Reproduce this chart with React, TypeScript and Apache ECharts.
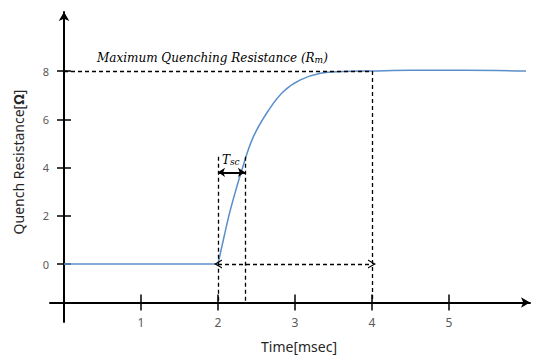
import React, { useEffect, useRef } from 'react';
import * as echarts from 'echarts';

// ---- data ----
const baselineTime = [0, 2];
const baselineRes = [0, 0];
const riseTime = [2, 2.08, 2.16, 2.31, 2.46, 2.66, 2.85, 3.07, 3.33, 3.63, 3.98, 4.5, 5.2, 6.0];
const riseRes = [0, 1.15, 2.24, 3.9, 5.28, 6.39, 7.15, 7.63, 7.91, 7.98, 8.0, 8.03, 8.03, 8.0];
const xTickValues = [1, 2, 3, 4, 5];
const yTickValues = [0, 2, 4, 6, 8];
const rMax = 8;
const tStart = 2;
const tSc = 2.35;
const tSettle = 4;
const tscArrowLevel = 3.8;
const tscTop = 4.45;

// ---- axis geometry ----
const X_MIN = -0.182;
const X_MAX = 6.052;
const Y_MIN = -2.404;
const Y_MAX = 10.446;
const X_AXIS_AT = -1.596; // value of R where the time axis is drawn
const GRID = { left: 50, right: 3, top: 12, bottom: 35 };
const PX_PER_Y = 310 / (Y_MAX - Y_MIN);
const PX_PER_X = 480 / (X_MAX - X_MIN);

const CHEVRON = 'path://M0,10 L6,0 L12,10 L10.2,10 L6,3 L1.8,10 Z';

const axisFont = '"Noto Sans", "Open Sans", sans-serif';
const mathFont = '"DejaVu Serif", serif';

export default function App() {
  const ref = useRef<HTMLDivElement>(null);

  useEffect(() => {
    if (!ref.current) return;
    const chart = echarts.init(ref.current, undefined, { renderer: 'svg' });
    const xOffset = -(X_AXIS_AT - Y_MIN) * PX_PER_Y;
    const yOffset = -(0 - X_MIN) * PX_PER_X;

    const dashed = { type: [4, 3] as any, color: '#000', width: 1.3 };

    const option: any = {
      animation: false,
      grid: { ...GRID, containLabel: false },
      xAxis: [
        {
          type: 'value', min: X_MIN, max: X_MAX, position: 'bottom', offset: xOffset,
          axisLine: { show: true, onZero: false, symbol: ['none', 'arrow'], symbolSize: [8, 9], lineStyle: { color: '#000', width: 2 } },
          axisTick: { show: true, customValues: xTickValues, length: 8, lineStyle: { color: '#000', width: 1.5 } },
          axisLabel: { customValues: xTickValues, color: '#595959', fontSize: 12, fontFamily: axisFont, margin: 14 },
          splitLine: { show: false },
        },
        {
          type: 'value', min: X_MIN, max: X_MAX, position: 'bottom', offset: xOffset,
          axisLine: { show: false, onZero: false },
          axisTick: { show: true, inside: true, customValues: xTickValues, length: 8, lineStyle: { color: '#000', width: 1.5 } },
          axisLabel: { show: false },
          splitLine: { show: false },
        },
      ],
      yAxis: [
        {
          type: 'value', min: Y_MIN, max: Y_MAX, position: 'left', offset: yOffset,
          axisLine: { show: true, onZero: false, symbol: ['none', 'arrow'], symbolSize: [8, 9], lineStyle: { color: '#000', width: 2 } },
          axisTick: { show: true, customValues: yTickValues, length: 7, lineStyle: { color: '#000', width: 1.5 } },
          axisLabel: { customValues: yTickValues, color: '#595959', fontSize: 11, fontFamily: axisFont, margin: 15 },
          splitLine: { show: false },
        },
        {
          type: 'value', min: Y_MIN, max: Y_MAX, position: 'left', offset: yOffset,
          axisLine: { show: false, onZero: false },
          axisTick: { show: true, inside: true, customValues: yTickValues, length: 7, lineStyle: { color: '#000', width: 1.5 } },
          axisLabel: { show: false },
          splitLine: { show: false },
        },
      ],
      series: [
        {
          type: 'line', xAxisIndex: 0, yAxisIndex: 0, showSymbol: false, silent: true,
          data: baselineTime.map((t, i) => [t, baselineRes[i]]),
          lineStyle: { color: '#5B8FCB', width: 1.5 },
          markLine: {
            silent: true, symbol: 'none', label: { show: false }, lineStyle: dashed,
            data: [
              [{ coord: [0, rMax] }, { coord: [tSettle, rMax] }],
              [{ coord: [tStart, tscTop] }, { coord: [tStart, X_AXIS_AT] }],
              [{ coord: [tSc, tscTop] }, { coord: [tSc, X_AXIS_AT] }],
              [{ coord: [tSettle, rMax] }, { coord: [tSettle, X_AXIS_AT] }],
              [
                { coord: [tStart, 0], symbol: CHEVRON, symbolSize: [9, 8] },
                { coord: [tSettle, 0], symbol: CHEVRON, symbolSize: [9, 8] },
              ],
            ],
          },
        },
        {
          type: 'line', xAxisIndex: 0, yAxisIndex: 0, showSymbol: false, silent: true, smooth: 0.4,
          data: riseTime.map((t, i) => [t, riseRes[i]]),
          lineStyle: { color: '#5B8FCB', width: 1.5 },
          markLine: {
            silent: true, symbol: ['arrow', 'arrow'], symbolSize: [7, 7], label: { show: false },
            lineStyle: { type: 'solid', color: '#000', width: 2 },
            data: [[{ coord: [tStart, tscArrowLevel] }, { coord: [tSc, tscArrowLevel] }]],
          },
        },
      ],
      graphic: [
        {
          type: 'text', x: 97, y: 64, silent: true,
          style: {
            text: '{i|Maximum Quenching Resistance (}{i|R}{s|m}{i|)}',
            verticalAlign: 'bottom', align: 'left',
            rich: {
              i: { fontFamily: mathFont, fontStyle: 'italic', fontSize: 12, lineHeight: 16, verticalAlign: 'bottom', fill: '#000' },
              s: { fontFamily: mathFont, fontStyle: 'italic', fontSize: 9, lineHeight: 10, verticalAlign: 'bottom', fill: '#000' },
            },
          },
        },
        {
          type: 'text', x: 222, y: 166, silent: true,
          style: {
            text: '{i|T}{s|sc}',
            verticalAlign: 'bottom', align: 'left',
            rich: {
              i: { fontFamily: mathFont, fontStyle: 'italic', fontSize: 12, lineHeight: 16, verticalAlign: 'bottom', fill: '#000' },
              s: { fontFamily: mathFont, fontStyle: 'italic', fontSize: 9, lineHeight: 10, verticalAlign: 'bottom', fill: '#000' },
            },
          },
        },
        {
          type: 'text', x: 18, y: 162, rotation: Math.PI / 2, silent: true,
          style: {
            text: '{n|Quench Resistance[}{b|Ω}{n|]}',
            align: 'center', verticalAlign: 'middle',
            rich: {
              n: { fontFamily: axisFont, fontSize: 14, fill: '#262626' },
              b: { fontFamily: axisFont, fontSize: 14, fontWeight: 'bold', fill: '#262626' },
            },
          },
        },
        {
          type: 'text', x: 299, y: 346, silent: true,
          style: { text: 'Time[msec]', align: 'center', verticalAlign: 'middle', fontFamily: axisFont, fontSize: 14, fill: '#262626' },
        },
      ],
    };
    chart.setOption(option);
    return () => chart.dispose();
  }, []);

  return <div ref={ref} style={{ position: 'fixed', left: 0, top: 0, width: 533, height: 357, background: '#fff' }} />;
}
